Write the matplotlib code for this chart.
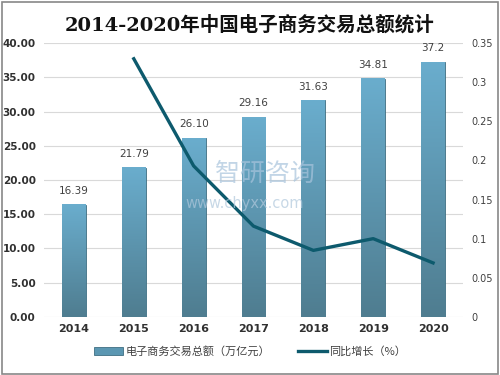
import matplotlib
matplotlib.use("Agg")
import matplotlib.pyplot as plt
import numpy as np
from matplotlib.patches import Patch
from matplotlib.lines import Line2D

plt.rcParams['font.family'] = ['Noto Sans CJK SC', 'DejaVu Sans']

years = ['2014', '2015', '2016', '2017', '2018', '2019', '2020']
totals = [16.39, 21.79, 26.10, 29.16, 31.63, 34.81, 37.2]
total_labels = ['16.39', '21.79', '26.10', '29.16', '31.63', '34.81', '37.2']
growth_years = ['2015', '2016', '2017', '2018', '2019', '2020']
growth = [0.33, 0.193, 0.116, 0.085, 0.10, 0.069]

fig = plt.figure(figsize=(5, 3.75), dpi=100)
ax = fig.add_axes([0.088, 0.155, 0.838, 0.730])

x = np.arange(len(years))
bars = ax.bar(x, totals, width=0.4, color='#5b97b2', edgecolor='#3f6f82',
              linewidth=0.6, zorder=2)
ax.set_xlim(-0.5, len(years) - 0.5)
ax.set_ylim(0, 40)

# verlauf in den balken
grad = np.linspace(0, 1, 100).reshape(-1, 1)
cmap = matplotlib.colors.LinearSegmentedColormap.from_list('b', ['#4f7d90', '#6aadcd'])
for b in bars:
    x0, w, h = b.get_x(), b.get_width(), b.get_height()
    ax.imshow(grad, extent=(x0, x0 + w, 0, h), origin='lower', cmap=cmap,
              aspect='auto', zorder=2.5)

for xi, v, lab in zip(x, totals, total_labels):
    ax.text(xi, v + 1.3, lab, ha='center', va='bottom', fontsize=7.5,
            color='#404040', family=['DejaVu Sans'])

ax.set_yticks(np.arange(0, 41, 5))
ax.set_yticklabels(['%.2f' % t for t in np.arange(0, 41, 5)], fontsize=7.5,
                   color='#303030', family=['DejaVu Sans'], fontweight='bold')
ax.set_xticks(x)
ax.set_xticklabels(years, fontsize=8, fontweight='bold', color='#303030',
                   family=['DejaVu Sans'])
ax.grid(axis='y', color='#d9d9d9', linewidth=0.8, zorder=0)
ax.set_axisbelow(True)
for s in ax.spines.values():
    s.set_visible(False)
ax.tick_params(length=0, pad=5)
ax.tick_params(axis='y', pad=6)

ax2 = ax.twinx()
gx = [years.index(g) for g in growth_years]
ax2.plot(gx, growth, color='#0d5a6d', linewidth=2.4, zorder=5)
ax2.set_ylim(0, 0.35)
ax2.set_yticks(np.arange(0, 0.36, 0.05))
ax2.set_yticklabels(['0', '0.05', '0.1', '0.15', '0.2', '0.25', '0.3', '0.35'],
                    fontsize=7, color='#404040', family=['DejaVu Sans'])
for s in ax2.spines.values():
    s.set_visible(False)
ax2.tick_params(length=0, pad=6)

# wasserzeichen
fig.text(0.53, 0.535, '智研咨询', fontsize=18, color='#a8c4dc', alpha=0.7,
         ha='center', va='center')
fig.text(0.49, 0.458, 'www.chyxx.com', fontsize=10.5, color='#b0c8dc', alpha=0.7,
         ha='center', va='center', family=['DejaVu Sans'])

fig.text(0.5, 0.935, '2014-2020年中国电子商务交易总额统计', fontsize=14,
         fontweight='bold', ha='center', va='center', color='#111111',
         family=['DejaVu Serif', 'Noto Sans CJK SC'])

handles = [Patch(facecolor='#5b97b2', edgecolor='#3f6f82', linewidth=0.6),
           Line2D([0], [0], color='#0d5a6d', linewidth=2.4)]
fig.legend(handles, ['电子商务交易总额（万亿元）', '同比增长（%）'], loc='center',
           bbox_to_anchor=(0.5, 0.062), ncol=2, frameon=False, fontsize=8,
           handlelength=2.6, handleheight=0.7, columnspacing=2.5,
           handletextpad=0.2, labelcolor='#404040')

fig.add_artist(plt.Rectangle((0.004, 0.004), 0.992, 0.992, transform=fig.transFigure,
                             fill=False, edgecolor='#888888', linewidth=1.2))

fig.savefig('out.png', dpi=100)
